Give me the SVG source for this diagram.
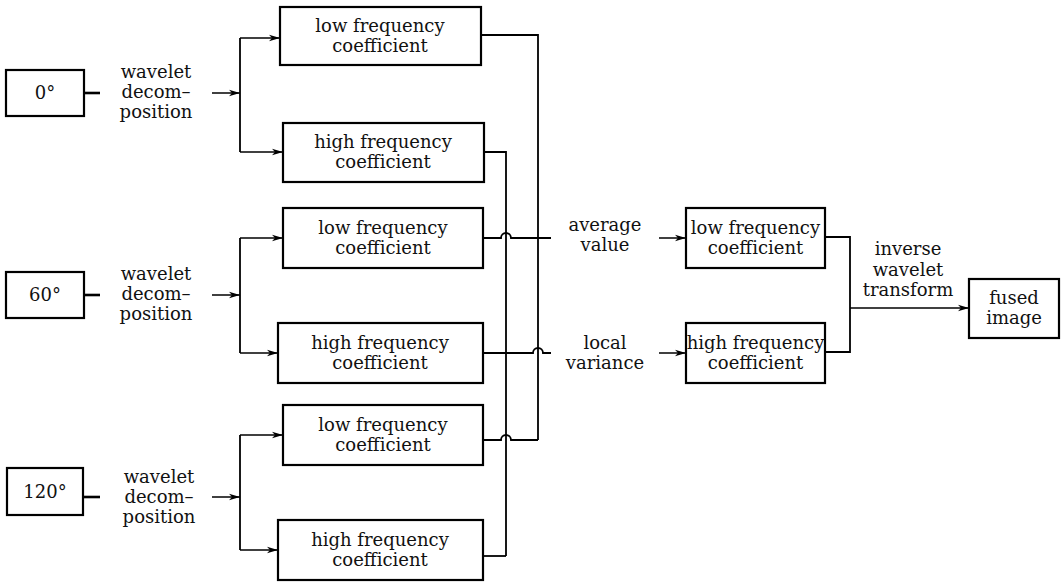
<svg xmlns="http://www.w3.org/2000/svg" width="1061" height="582" viewBox="0 0 1061 582">
<defs>
<style>
.box{fill:#fff;stroke:#000;stroke-width:2.2}
.t{font-family:"DejaVu Serif","Liberation Serif",serif;font-size:18px;fill:#111;text-anchor:middle}
.ln{fill:none;stroke:#000;stroke-width:1.8}
.stub{fill:none;stroke:#000;stroke-width:2.6}
.ar{fill:none;stroke:#000;stroke-width:1.5;marker-end:url(#ah)}
</style>
<marker id="ah" markerUnits="userSpaceOnUse" markerWidth="12" markerHeight="8" refX="11" refY="4" orient="auto">
<path d="M0,0.8 L11,4 L0,7.2 L3,4 Z" fill="#000"/>
</marker>
</defs>

<g id="in0"><rect class="box" x="6" y="70" width="78" height="46"/><text class="t" x="45" y="99">0°</text></g>
<g id="in60"><rect class="box" x="6" y="272" width="78" height="46"/><text class="t" x="45" y="301">60°</text></g>
<g id="in120"><rect class="box" x="7" y="468" width="76" height="47"/><text class="t" x="45" y="498">120°</text></g>

<g id="wd0"><text class="t" x="156"><tspan x="156" y="78">wavelet</tspan><tspan x="156" y="98">decom–</tspan><tspan x="156" y="118">position</tspan></text></g>
<g id="wd60"><text class="t"><tspan x="156" y="280">wavelet</tspan><tspan x="156" y="300">decom–</tspan><tspan x="156" y="320">position</tspan></text></g>
<g id="wd120"><text class="t"><tspan x="159" y="483">wavelet</tspan><tspan x="159" y="503">decom–</tspan><tspan x="159" y="523">position</tspan></text></g>

<g id="low0"><rect class="box" x="280" y="7" width="201" height="58"/><text class="t"><tspan x="380" y="32">low frequency</tspan><tspan x="380" y="52">coefficient</tspan></text></g>
<g id="high0"><rect class="box" x="283" y="123" width="201" height="59"/><text class="t"><tspan x="383" y="148">high frequency</tspan><tspan x="383" y="168">coefficient</tspan></text></g>
<g id="low60"><rect class="box" x="283" y="208" width="200" height="60"/><text class="t"><tspan x="383" y="234">low frequency</tspan><tspan x="383" y="254">coefficient</tspan></text></g>
<g id="high60"><rect class="box" x="278" y="323" width="205" height="60"/><text class="t"><tspan x="380" y="349">high frequency</tspan><tspan x="380" y="369">coefficient</tspan></text></g>
<g id="low120"><rect class="box" x="283" y="405" width="200" height="60"/><text class="t"><tspan x="383" y="431">low frequency</tspan><tspan x="383" y="451">coefficient</tspan></text></g>
<g id="high120"><rect class="box" x="278" y="520" width="205" height="60"/><text class="t"><tspan x="380" y="546">high frequency</tspan><tspan x="380" y="566">coefficient</tspan></text></g>

<g id="avg"><text class="t"><tspan x="605" y="231">average</tspan><tspan x="605" y="251">value</tspan></text></g>
<g id="var"><text class="t"><tspan x="605" y="349">local</tspan><tspan x="605" y="369">variance</tspan></text></g>

<g id="lowF"><rect class="box" x="686" y="208" width="139" height="60"/><text class="t"><tspan x="755.5" y="234">low frequency</tspan><tspan x="755.5" y="254">coefficient</tspan></text></g>
<g id="highF"><rect class="box" x="686" y="323" width="139" height="60"/><text class="t"><tspan x="755.5" y="349">high frequency</tspan><tspan x="755.5" y="369">coefficient</tspan></text></g>

<g id="iwt"><text class="t"><tspan x="908" y="255">inverse</tspan><tspan x="908" y="276">wavelet</tspan><tspan x="908" y="296">transform</tspan></text></g>
<g id="fused"><rect class="box" x="969" y="279" width="90" height="59"/><text class="t"><tspan x="1014" y="304">fused</tspan><tspan x="1014" y="324">image</tspan></text></g>

<g id="connectors">
<path class="stub" d="M84,93 H100"/>
<path class="stub" d="M84,295 H100"/>
<path class="stub" d="M83,497 H100"/>
<path class="ar" d="M212,93 H240"/>
<path class="ar" d="M212,295 H240"/>
<path class="ar" d="M212,497 H240"/>
<path class="ln" d="M240,38 V152"/>
<path class="ln" d="M240,238 V353"/>
<path class="ln" d="M240,435 V550"/>
<path class="ar" d="M240,38 H280"/>
<path class="ar" d="M240,152 H283"/>
<path class="ar" d="M240,238 H283"/>
<path class="ar" d="M240,353 H278"/>
<path class="ar" d="M240,435 H283"/>
<path class="ar" d="M240,550 H278"/>
<path class="ln" d="M481,35 H538 V440"/>
<path class="ln" d="M484,152 H506 V556"/>
<path class="ln" d="M483,238 H501 A5,5 0 0 1 511,238 H551"/>
<path class="ln" d="M483,353 H533 A5,5 0 0 1 543,353 H551"/>
<path class="ln" d="M483,440 H501 A5,5 0 0 1 511,440 H538"/>
<path class="ln" d="M483,556 H506"/>
<path class="ar" d="M659,238 H686"/>
<path class="ar" d="M659,353 H686"/>
<path class="ln" d="M825,237 H850 V352 H825"/>
<path class="ar" d="M850,308 H969"/>
</g>
</svg>
